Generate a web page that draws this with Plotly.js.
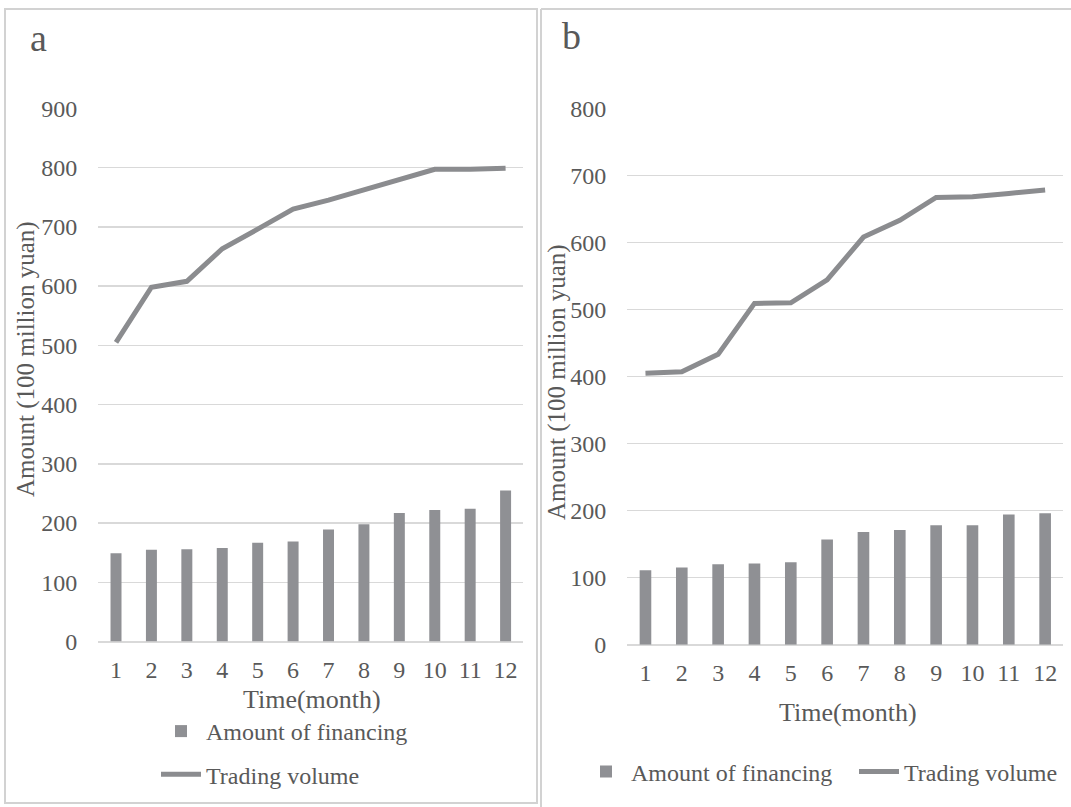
<!DOCTYPE html>
<html>
<head>
<meta charset="utf-8">
<script src="https://cdn.plot.ly/plotly-3.0.1.min.js"></script>
<style>
html,body{margin:0;padding:0;background:#fff;}
#chart{width:1071px;height:807px;}
</style>
</head>
<body>
<div id="chart"></div>
<script>
// ---- data ----
const months = [1, 2, 3, 4, 5, 6, 7, 8, 9, 10, 11, 12];
const monthLabels = ['1', '2', '3', '4', '5', '6', '7', '8', '9', '10', '11', '12'];
const financingA = [149, 155, 156, 158, 167, 169, 189, 198, 217, 222, 224, 255];
const volumeA = [505, 598, 608, 663, 696, 730, 745, 762, 781, 797, 797, 799];
const financingB = [111, 115, 120, 121, 123, 157, 168, 171, 178, 178, 194, 196];
const volumeB = [405, 407, 433, 509, 510, 544, 608, 633, 667, 668, 673, 678];
const seriesNames = ['Amount of financing', 'Trading volume'];
const panelLabels = ['a', 'b'];
const xTitle = 'Time(month)';
const yTitle = 'Amount (100 million yuan)';

// ---- layout helpers (pixel -> paper) ----
const W = 1071, H = 807;
const px = v => v / W;
const py = v => 1 - v / H;

const FONT = 'Liberation Serif, Times New Roman, serif';
const TXT = '#595959';
const BAR = '#8f9094';
const LINE = '#8b8c8f';
const GRID = '#d9d9d9';

const traces = [
  {type: 'bar', x: months, y: financingA, name: seriesNames[0], xaxis: 'x', yaxis: 'y',
   marker: {color: BAR}, width: 0.31, legend: 'legend', legendgroup: 'fa'},
  {type: 'scatter', mode: 'lines', x: months, y: volumeA, name: seriesNames[1], xaxis: 'x', yaxis: 'y',
   line: {color: LINE, width: 5}, legend: 'legend', legendgroup: 'va'},
  {type: 'bar', x: months, y: financingB, name: seriesNames[0], xaxis: 'x2', yaxis: 'y2',
   marker: {color: BAR}, width: 0.32, legend: 'legend2'},
  {type: 'scatter', mode: 'lines', x: months, y: volumeB, name: seriesNames[1], xaxis: 'x2', yaxis: 'y2',
   line: {color: LINE, width: 5}, legend: 'legend3'}
];

const xCommon = {
  range: [0.5, 12.5], tickmode: 'array', tickvals: months, ticktext: monthLabels,
  showgrid: false, zeroline: false, showline: false, ticks: '',
  tickfont: {family: FONT, size: 24, color: TXT}, fixedrange: true
};
const yCommon = {
  dtick: 100, showgrid: true, gridcolor: GRID, gridwidth: 1.5,
  zeroline: true, zerolinecolor: GRID, zerolinewidth: 2, showline: false, ticks: '',
  tickfont: {family: FONT, size: 24, color: TXT}, ticklabelstandoff: 20, fixedrange: true
};

const ann = (text, x, y, size, angle) => ({
  text: text, xref: 'paper', yref: 'paper', x: px(x), y: py(y), xanchor: 'center', yanchor: 'middle',
  showarrow: false, textangle: angle || 0, font: {family: FONT, size: size, color: TXT}
});

const legendBase = {
  font: {family: FONT, size: 24, color: TXT}, bgcolor: 'rgba(0,0,0,0)', itemwidth: 40,
  xanchor: 'left', yanchor: 'middle'
};

const layout = {
  width: W, height: H,
  margin: {l: 0, r: 0, t: 0, b: 0},
  paper_bgcolor: '#fff', plot_bgcolor: '#fff',
  font: {family: FONT, color: TXT},
  showlegend: true,
  xaxis: Object.assign({}, xCommon, {domain: [px(98.3), px(523.3)], anchor: 'y', ticklabelstandoff: 11}),
  yaxis: Object.assign({}, yCommon, {domain: [py(641.6), py(108.3)], range: [0, 900], anchor: 'x'}),
  xaxis2: Object.assign({}, xCommon, {domain: [px(627.3), px(1063.3)], anchor: 'y2', ticklabelstandoff: 11}),
  yaxis2: Object.assign({}, yCommon, {domain: [py(644.7), py(108.3)], range: [0, 800], anchor: 'x2'}),
  legend: Object.assign({}, legendBase, {
    orientation: 'v', x: px(156), y: py(753), traceorder: 'grouped', tracegroupgap: 9
  }),
  legend2: Object.assign({}, legendBase, {orientation: 'h', x: px(581), y: py(772)}),
  legend3: Object.assign({}, legendBase, {orientation: 'h', x: px(854), y: py(772)}),
  shapes: [
    {type: 'rect', xref: 'paper', yref: 'paper', x0: px(5), x1: px(537), y0: py(803), y1: py(9),
     line: {color: '#d2d2d2', width: 2}, layer: 'below'},
    {type: 'line', xref: 'paper', yref: 'paper', x0: px(541), x1: px(541), y0: py(807), y1: py(9),
     line: {color: '#d2d2d2', width: 2}, layer: 'below'},
    {type: 'line', xref: 'paper', yref: 'paper', x0: px(541), x1: px(1071), y0: py(9), y1: py(9),
     line: {color: '#d2d2d2', width: 2}, layer: 'below'}
  ],
  annotations: [
    ann(panelLabels[0], 38, 38, 38),
    ann(panelLabels[1], 571, 36, 38),
    ann(yTitle, 26, 359, 25, -90),
    ann(yTitle, 557, 382, 25, -90),
    ann(xTitle, 312, 699, 26),
    ann(xTitle, 848, 712, 26)
  ]
};

Plotly.newPlot('chart', traces, layout, {staticPlot: true, displayModeBar: false});
</script>
</body>
</html>
